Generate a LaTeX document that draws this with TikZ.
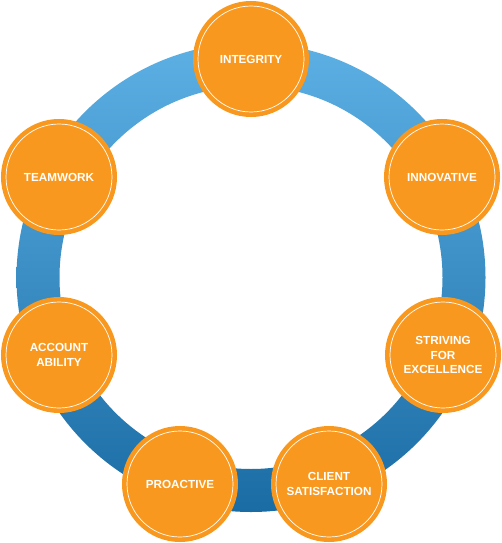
\documentclass[tikz,border=0pt]{standalone}
\usepackage{fontspec}
\setmainfont{Liberation Sans}
\usepackage{xcolor}
\usepackage{tikz}
\usetikzlibrary{positioning}

\definecolor{valorange}{RGB}{248,152,30}
\definecolor{ringtop}{RGB}{92,176,228}
\definecolor{ringbot}{RGB}{26,108,164}

\begin{document}
\begin{tikzpicture}[x=1pt, y=-1pt,
    value/.style={circle, minimum size=106pt, inner sep=0pt, fill=valorange,
        draw=white, line width=0.7pt, preaction={draw=valorange, line width=10pt},
        text=white, align=center, font=\bfseries\fontsize{11.7}{14.8}\selectfont}]
    \useasboundingbox (0,0) rectangle (501,543);

    % 圆环
    \coordinate (c) at (251,277.5);
    \shade[top color=ringtop, bottom color=ringbot, even odd rule]
        (c) circle (234.5pt) (c) circle (191.5pt);

    % 价值
    \node[value] (integrity) at (251,59) {INTEGRITY};
    \node[value] (innovative) at (442,177) {INNOVATIVE};
    \node[value] (striving) at (443,355) {STRIVING\\FOR\\EXCELLENCE};
    \node[value] (client) at (329,484) {CLIENT\\SATISFACTION};
    \node[value] (proactive) at (180,484) {PROACTIVE};
    \node[value] (account) at (59,355) {ACCOUNT\\ABILITY};
    \node[value] (teamwork) at (59,177) {TEAMWORK};
\end{tikzpicture}
\end{document}
